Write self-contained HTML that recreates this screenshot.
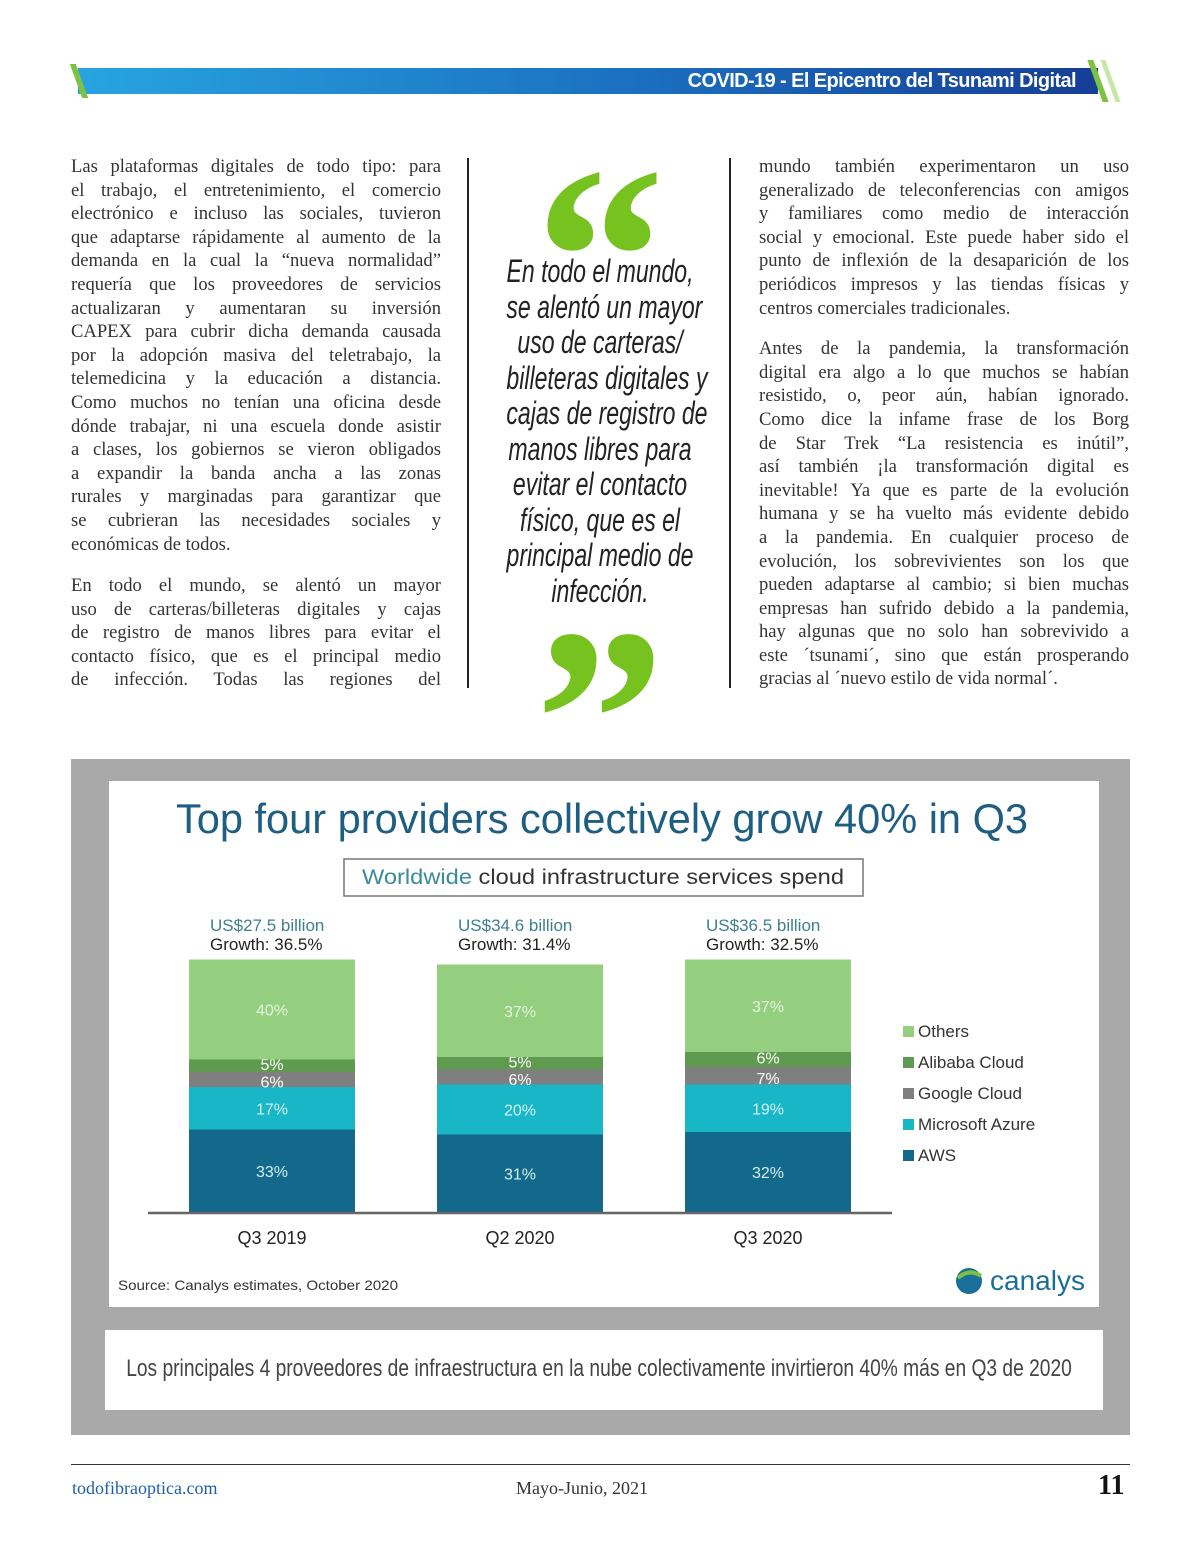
<!DOCTYPE html>
<html><head><meta charset="utf-8"><style>
body{margin:0;width:1200px;height:1555px;background:#fff;position:relative;overflow:hidden;font-family:"Liberation Serif",serif;}
.abs{position:absolute}
.col{position:absolute;font-size:18.6px;line-height:23.6px;color:#333;}
.col div{text-align:justify;text-align-last:justify;white-space:nowrap;}
.col div.l{text-align-last:left}
.q{position:absolute;left:470px;width:260px;text-align:center;font-family:"Liberation Sans",sans-serif;font-style:italic;font-size:32px;color:#222;}
.q div{height:35.5px;line-height:35.5px;transform:scaleX(0.72);white-space:nowrap}
</style></head><body>
<div class="abs" style="left:78px;top:68px;width:1020px;height:26px;background:linear-gradient(90deg,#27a4e0,#1b6fc0 55%,#163e96);"></div>
<div class="abs" style="left:76px;top:64px;width:6px;height:34px;background:#7dc242;transform:skewX(20deg)"></div>
<div class="abs" style="left:1095px;top:60px;width:6px;height:42px;background:#7dc242;transform:skewX(20deg)"></div>
<div class="abs" style="left:1108px;top:60px;width:5px;height:42px;background:#c8e6a8;transform:skewX(20deg)"></div>
<div class="abs" style="left:600px;top:68px;width:476px;text-align:right;font-family:'Liberation Sans',sans-serif;font-weight:bold;font-size:20px;line-height:26px;color:#fff;letter-spacing:-0.6px">COVID-19 - El Epicentro del Tsunami Digital</div>

<div class="col" style="left:71px;top:155px;width:370px">
<div>Las plataformas digitales de todo tipo: para</div><div>el trabajo, el entretenimiento, el comercio</div><div>electrónico e incluso las sociales, tuvieron</div><div>que adaptarse rápidamente al aumento de la</div><div>demanda en la cual la “nueva normalidad”</div><div>requería que los proveedores de servicios</div><div>actualizaran y aumentaran su inversión</div><div>CAPEX para cubrir dicha demanda causada</div><div>por la adopción masiva del teletrabajo, la</div><div>telemedicina y la educación a distancia.</div><div>Como muchos no tenían una oficina desde</div><div>dónde trabajar, ni una escuela donde asistir</div><div>a clases, los gobiernos se vieron obligados</div><div>a expandir la banda ancha a las zonas</div><div>rurales y marginadas para garantizar que</div><div>se cubrieran las necesidades sociales y</div><div class="l">económicas de todos.</div>
<div style="height:18px"></div>
<div>En todo el mundo, se alentó un mayor</div><div>uso de carteras/billeteras digitales y cajas</div><div>de registro de manos libres para evitar el</div><div>contacto físico, que es el principal medio</div><div>de infección. Todas las regiones del</div>
</div>
<div class="abs" style="left:467px;top:158px;width:2px;height:530px;background:#222"></div>
<div class="abs" style="left:729px;top:158px;width:2px;height:530px;background:#222"></div>

<div class="abs" style="left:520px;top:128px;width:160px;text-align:center;font-family:'Liberation Serif',serif;font-weight:bold;font-size:260px;line-height:260px;color:#76c21f">“</div>
<div class="q" style="top:254px">
<div>En todo el mundo,</div><div>se alentó un mayor</div><div>uso de carteras/</div><div>billeteras digitales y</div><div>cajas de registro de</div><div>manos libres para</div><div>evitar el contacto</div><div>físico, que es el</div><div>principal medio de</div><div>infección.</div></div>
<div class="abs" style="left:520px;top:590px;width:160px;text-align:center;font-family:'Liberation Serif',serif;font-weight:bold;font-size:260px;line-height:260px;color:#76c21f">”</div>

<div class="col" style="left:759px;top:155px;width:370px">
<div>mundo también experimentaron un uso</div><div>generalizado de teleconferencias con amigos</div><div>y familiares como medio de interacción</div><div>social y emocional. Este puede haber sido el</div><div>punto de inflexión de la desaparición de los</div><div>periódicos impresos y las tiendas físicas y</div><div class="l">centros comerciales tradicionales.</div>
<div style="height:17px"></div>
<div>Antes de la pandemia, la transformación</div><div>digital era algo a lo que muchos se habían</div><div>resistido, o, peor aún, habían ignorado.</div><div>Como dice la infame frase de los Borg</div><div>de Star Trek “La resistencia es inútil”,</div><div>así también ¡la transformación digital es</div><div>inevitable! Ya que es parte de la evolución</div><div>humana y se ha vuelto más evidente debido</div><div>a la pandemia. En cualquier proceso de</div><div>evolución, los sobrevivientes son los que</div><div>pueden adaptarse al cambio; si bien muchas</div><div>empresas han sufrido debido a la pandemia,</div><div>hay algunas que no solo han sobrevivido a</div><div>este ´tsunami´, sino que están prosperando</div><div class="l">gracias al ´nuevo estilo de vida normal´.</div>
</div>

<div class="abs" style="left:71px;top:759px;width:1059px;height:676px;background:#a9a9a9"></div>
<div class="abs" style="left:109px;top:781px;width:990px;height:526px;background:#fff"></div>
<svg class="abs" style="left:0;top:0" width="1200" height="1555" font-family="Liberation Sans, sans-serif">
<text x="602" y="833" text-anchor="middle" font-size="42" fill="#1e5e82" textLength="852" lengthAdjust="spacingAndGlyphs">Top four providers collectively grow 40% in Q3</text>
<rect x="344" y="859" width="519" height="37" fill="#fff" stroke="#777" stroke-width="1.5"/>
<text x="603" y="884" text-anchor="middle" font-size="21" fill="#333" textLength="482" lengthAdjust="spacingAndGlyphs"><tspan fill="#3a8a9a">Worldwide</tspan> cloud infrastructure services spend</text>
<g id="bars"></g>
<line x1="148" y1="1213" x2="892" y2="1213" stroke="#666" stroke-width="2.5"/>
<g id="legend"></g>
<text x="118" y="1290" font-size="14" fill="#333" textLength="280" lengthAdjust="spacingAndGlyphs">Source: Canalys estimates, October 2020</text>
<circle cx="969" cy="1281" r="13" fill="#1a6e9a"/>
<path d="M958 1278 Q969 1268 981 1276" stroke="#7dc242" stroke-width="4" fill="none"/>
<text x="990" y="1290" font-size="28" fill="#1a6e9a">canalys</text>
</svg>
<div class="abs" style="left:105px;top:1330px;width:998px;height:80px;background:#fff"></div>
<div class="abs" style="left:599px;top:1355px;white-space:nowrap;transform:translateX(-50%) scaleX(0.8);font-family:'Liberation Sans',sans-serif;font-size:24px;color:#444;">Los principales 4 proveedores de infraestructura en la nube colectivamente invirtieron 40% más en Q3 de 2020</div>

<div class="abs" style="left:71px;top:1464px;width:1059px;height:1px;background:#333"></div>
<div class="abs" style="left:72px;top:1478px;font-size:18px;color:#1f5fa8">todofibraoptica.com</div>
<div class="abs" style="left:516px;top:1478px;font-size:18px;color:#333">Mayo-Junio, 2021</div>
<div class="abs" style="left:1098px;top:1470px;font-size:28px;font-weight:bold;color:#111">11</div>

<script>
const categories=["Q3 2019","Q2 2020","Q3 2020"];
const totals=["US$27.5 billion","US$34.6 billion","US$36.5 billion"];
const growth=["Growth: 36.5%","Growth: 31.4%","Growth: 32.5%"];
const seriesNames=["AWS","Microsoft Azure","Google Cloud","Alibaba Cloud","Others"];
const aws=[33,31,32];
const azure=[17,20,19];
const google=[6,6,7];
const alibaba=[5,5,6];
const others=[40,37,37];
const colors=["#13698b","#18b6c6","#7f7f7f","#5e9a4f","#93cf7f"];
const labelColors=["#d8eef5","#d2f4f7","#fff","#fff","#e6f5df"];
const series=[aws,azure,google,alibaba,others];
const NS="http://www.w3.org/2000/svg";
const x0=189,step=248,bw=166,base=1212,ph=2.5;
const xp=i=>x0+i*step, yp=v=>base-v*ph;
const g=document.getElementById('bars');
function mk(t,a,txt){const e=document.createElementNS(NS,t);for(const k in a)e.setAttribute(k,a[k]);if(txt!==undefined)e.textContent=txt;return e;}
categories.forEach((c,i)=>{
  let cum=0;
  series.forEach((s,j)=>{
    const v=s[i];
    const r=mk('rect',{x:xp(i),y:yp(cum+v),width:bw,height:v*ph,fill:colors[j]});
    
    
    g.appendChild(r);
    let ly=yp(cum+v/2)+6;
    if(j==2) ly=yp(cum+v/2)+8;
    if(j==3) ly=yp(cum+v/2)+4;
    const t=mk('text',{x:xp(i)+bw/2,y:ly,'text-anchor':'middle','font-size':16,fill:labelColors[j]},v+'%');
    
    
    g.appendChild(t);
    cum+=v;
  });
  const t1=mk('text',{x:xp(i)+21,y:931,'font-size':17,fill:'#3f7f8f'},totals[i]);
  
  
  g.appendChild(t1);
  const t2=mk('text',{x:xp(i)+21,y:950,'font-size':17,fill:'#222'},growth[i]);
  
  
  g.appendChild(t2);
  const t3=mk('text',{x:xp(i)+bw/2,y:1244,'text-anchor':'middle','font-size':18,fill:'#222'},c);
  
  
  g.appendChild(t3);
});
const lg=document.getElementById('legend');
[4,3,2,1,0].forEach((j,k)=>{
  const y=1037+k*31;
  const r=mk('rect',{x:903,y:y-11,width:11,height:11,fill:colors[j]});
  
  
  lg.appendChild(r);
  const t=mk('text',{x:918,y:y,'font-size':17,fill:'#333'},j==4?'Others':seriesNames[j]);
  
  
  lg.appendChild(t);
});
</script>
</body></html>
